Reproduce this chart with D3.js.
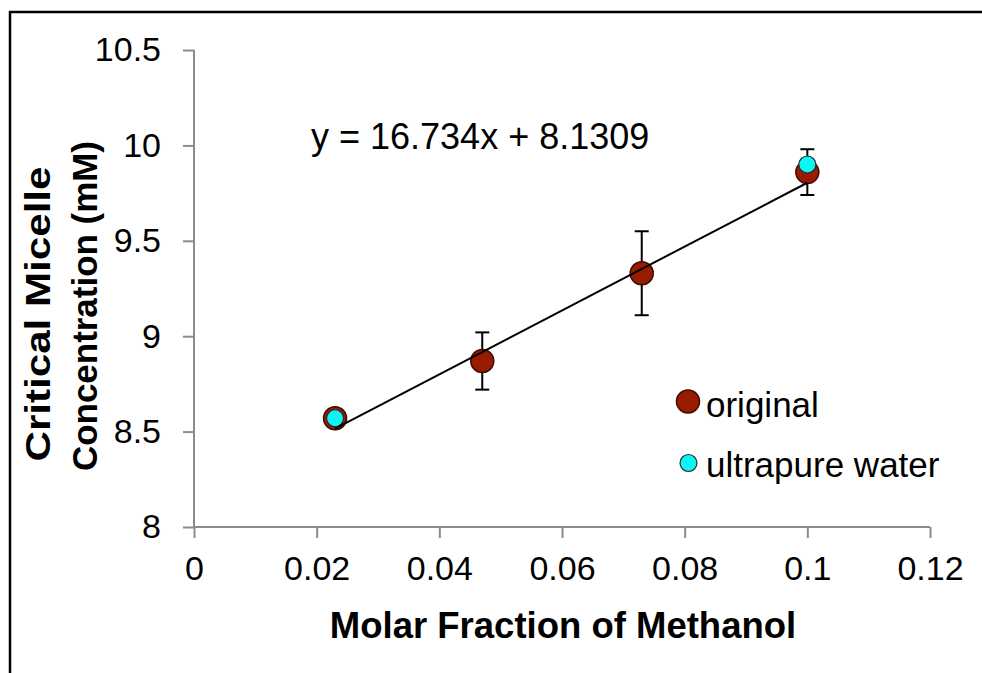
<!DOCTYPE html>
<html>
<head>
<meta charset="utf-8">
<script src="https://cdn.jsdelivr.net/npm/d3@7"></script>
<style>
  html, body { margin: 0; padding: 0; background: #fff; }
  svg { display: block; }
  text { font-family: "Liberation Sans", Arial, sans-serif; fill: #000; }
</style>
</head>
<body>
<svg id="chart" width="982" height="673"></svg>
<script>
// Methanol molar fraction vs. critical micelle concentration
const xTicks = [0, 0.02, 0.04, 0.06, 0.08, 0.1, 0.12];
const yTicks = [8, 8.5, 9, 9.5, 10, 10.5];
const xTickLabels = ["0", "0.02", "0.04", "0.06", "0.08", "0.1", "0.12"];
const yTickLabels = ["8", "8.5", "9", "9.5", "10", "10.5"];

const originalX = [0.023, 0.047, 0.073, 0.1];
const originalY = [8.57, 8.87, 9.33, 9.86];
const originalErr = [0, 0.15, 0.22, 0.12];

const ultrapureX = [0.023, 0.1];
const ultrapureY = [8.57, 9.90];

// Linear fit reported on the chart
const fitSlope = 16.734;
const fitIntercept = 8.1309;
const fitRange = [0.023, 0.1];

const seriesNames = ["original", "ultrapure water"];

const svg = d3.select("#chart");

const x = d3.scaleLinear().domain([0, 0.12]).range([194, 930]);
const y = d3.scaleLinear().domain([8, 10.5]).range([527, 50]);

// Outer frame: left and top edges (the rest runs off the canvas)
svg.append("path")
  .attr("d", "M10,700V12H1000")
  .attr("fill", "none").attr("stroke", "#000").attr("stroke-width", 2.5);

const defs = svg.append("defs");
defs.append("filter").attr("id", "soft")
  .attr("x", "-30%").attr("y", "-30%").attr("width", "160%").attr("height", "160%")
  .append("feGaussianBlur").attr("stdDeviation", 0.7);

const axisColor = "#8c8c8c";

// Axes
const xAxis = svg.append("g")
  .attr("transform", `translate(0,${y(8)})`)
  .call(d3.axisBottom(x).tickValues(xTicks).tickSize(11).tickPadding(18)
    .tickFormat((d, i) => xTickLabels[i]));
const yAxis = svg.append("g")
  .attr("transform", `translate(${x(0)},0)`)
  .call(d3.axisLeft(y).tickValues(yTicks).tickSize(11).tickPadding(22)
    .tickFormat((d, i) => yTickLabels[i]));

[xAxis, yAxis].forEach(g => {
  g.select(".domain").attr("stroke", axisColor).attr("stroke-width", 2);
  g.selectAll(".tick line").attr("stroke", axisColor).attr("stroke-width", 2);
  g.selectAll(".tick text").attr("font-size", 34).attr("fill", "#000")
    .attr("font-family", "Liberation Sans, Arial, sans-serif");
});
xAxis.select(".domain").attr("d", `M${x(0)},0H${x(0.12)}`);
yAxis.select(".domain").attr("d", `M0,${y(8)}V${y(10.5)}`);

// Error bars
const errData = originalX.map((d, i) => ({ x: d, y: originalY[i], e: originalErr[i] }))
  .filter(d => d.e > 0);
const eb = svg.append("g").attr("stroke", "#000").attr("stroke-width", 2);
errData.forEach(d => {
  eb.append("line").attr("x1", x(d.x)).attr("x2", x(d.x))
    .attr("y1", y(d.y - d.e)).attr("y2", y(d.y + d.e));
  [d.y - d.e, d.y + d.e].forEach(v => {
    eb.append("line").attr("x1", x(d.x) - 7).attr("x2", x(d.x) + 7)
      .attr("y1", y(v)).attr("y2", y(v));
  });
});

// Markers
const redFill = "#9a1a00", redEdge = "#3d0800";
const cyanFill = "#10f4f4", cyanEdge = "#2b2b2b";

svg.append("g").selectAll("circle")
  .data(originalX.map((d, i) => [d, originalY[i]]))
  .join("circle")
  .attr("cx", d => x(d[0])).attr("cy", d => y(d[1])).attr("r", 11.5)
  .attr("fill", redFill).attr("stroke", redEdge).attr("stroke-width", 1.5)
  .attr("filter", "url(#soft)");

svg.append("g").selectAll("circle")
  .data(ultrapureX.map((d, i) => [d, ultrapureY[i]]))
  .join("circle")
  .attr("cx", d => x(d[0])).attr("cy", d => y(d[1])).attr("r", 8.5)
  .attr("fill", cyanFill).attr("stroke", cyanEdge).attr("stroke-width", 1.2)
  .attr("filter", "url(#soft)");

// Trendline
svg.append("line")
  .attr("x1", x(fitRange[0])).attr("y1", y(fitSlope * fitRange[0] + fitIntercept))
  .attr("x2", x(fitRange[1])).attr("y2", y(fitSlope * fitRange[1] + fitIntercept))
  .attr("stroke", "#000").attr("stroke-width", 2);

svg.append("text")
  .attr("x", 311).attr("y", 149)
  .attr("font-size", 36)
  .text(`y = ${fitSlope}x + ${fitIntercept}`);

// Legend
const legend = svg.append("g");
legend.append("circle").attr("cx", 688).attr("cy", 401.5).attr("r", 11.5)
  .attr("fill", redFill).attr("stroke", redEdge).attr("stroke-width", 1.5)
  .attr("filter", "url(#soft)");
legend.append("circle").attr("cx", 688.5).attr("cy", 463).attr("r", 8.5)
  .attr("fill", cyanFill).attr("stroke", cyanEdge).attr("stroke-width", 1.2)
  .attr("filter", "url(#soft)");
legend.append("text").attr("x", 706).attr("y", 417).attr("font-size", 35).text(seriesNames[0]);
legend.append("text").attr("x", 706).attr("y", 477).attr("font-size", 35).text(seriesNames[1]);

// Axis titles
svg.append("text")
  .attr("x", 563).attr("y", 638)
  .attr("text-anchor", "middle").attr("font-weight", "bold").attr("font-size", 36.5)
  .text("Molar Fraction of Methanol");

const yTitle = svg.append("text")
  .attr("transform", "rotate(-90)")
  .attr("text-anchor", "middle").attr("font-weight", "bold").attr("font-size", 35);
yTitle.append("tspan").attr("x", -314).attr("y", 50)
  .attr("textLength", 295).attr("lengthAdjust", "spacingAndGlyphs")
  .text("Critical Micelle");
yTitle.append("tspan").attr("x", -306).attr("y", 97)
  .attr("textLength", 330).attr("lengthAdjust", "spacingAndGlyphs")
  .text("Concentration (mM)");
</script>
</body>
</html>
